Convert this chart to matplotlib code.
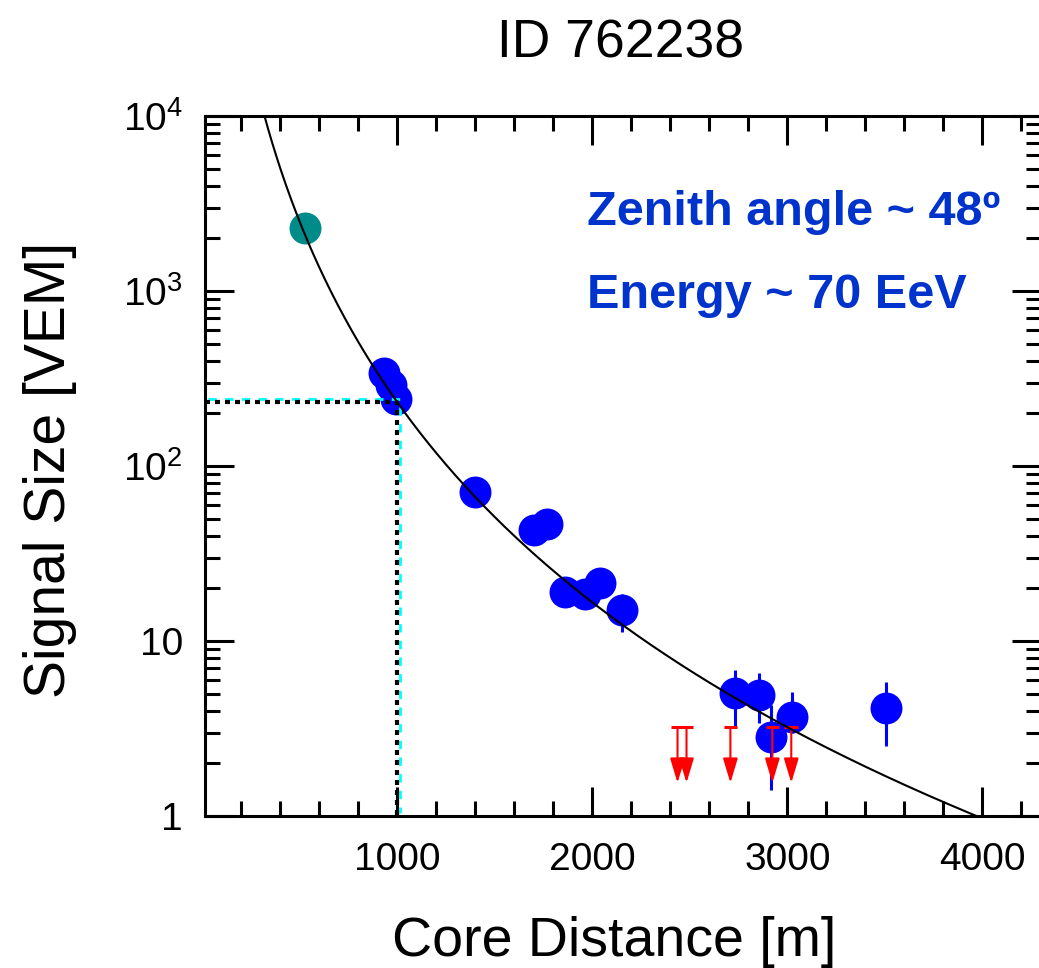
import numpy as np
import matplotlib
matplotlib.use("Agg")
import matplotlib.pyplot as plt
from matplotlib.ticker import FixedLocator, MultipleLocator, LogLocator, NullFormatter
import matplotlib.transforms as mtransforms

plt.rcParams['font.family'] = ['Liberation Sans', 'DejaVu Sans']
plt.rcParams['mathtext.default'] = 'regular'

# station data
blue_r = [930, 966, 996, 1400, 1702, 1768, 1860, 1962, 2039, 2151, 2734, 2856, 2918, 3025, 3505]
blue_s = [340, 290, 240, 71, 43, 46.6, 19.1, 18.6, 21.4, 15.0, 5.04, 4.9, 2.83, 3.68, 4.14]
blue_lo = [320, 272, 226, 66, 40, 43.5, 17.5, 17, 19.6, 11.3, 3.2, 3.4, 1.41, 3.0, 2.5]
blue_hi = [360, 308, 254, 76, 46, 50, 21, 20.3, 23.3, 18.5, 6.8, 6.6, 4.3, 5.1, 5.8]

sat_r = [526]
sat_s = [2290]

lim_r = [2437, 2483, 2708, 2923, 3020]
lim_s = [3.22, 3.22, 3.22, 3.22, 3.22]

# lateral distribution fit
R_REF = 1000
S1000 = 232
BETA = 2.28

y_ticks = [1, 10, 100, 1000, 10000]
y_ticklabels = ['1', '10', r'$10^{2}$', r'$10^{3}$', r'$10^{4}$']
x_ticks = [1000, 2000, 3000, 4000]

BLUE = '#0000ff'
TEAL = '#008b8b'
TEXT_BLUE = '#0033cc'

fig = plt.figure(figsize=(10.39, 9.68), dpi=100)
ax = fig.add_axes([205 / 1039, 1 - 816 / 968, 836 / 1039, 700 / 968])
ax.set_yscale('log')
ax.set_xlim(15, 4300)
ax.set_ylim(1, 1e4)

# data points
yerr = [np.array(blue_s) - np.array(blue_lo), np.array(blue_hi) - np.array(blue_s)]
ax.errorbar(blue_r, blue_s, yerr=yerr, fmt='o', color=BLUE, ms=23, mew=0,
            elinewidth=2.2, capsize=0, zorder=2)
ax.plot(sat_r, sat_s, 'o', color=TEAL, ms=23, mew=0, zorder=2)

# upper limits
for r, s in zip(lim_r, lim_s):
    ax.plot([r - 35, r + 35], [s, s], color='red', lw=2.2, zorder=3, solid_capstyle='butt')
    ax.annotate('', xy=(r, s * 0.48), xytext=(r, s),
                arrowprops=dict(arrowstyle='-|>,head_length=1.5,head_width=0.45',
                                color='red', lw=1.5, shrinkA=0, shrinkB=0),
                zorder=3)

# S(1000) guide lines
off = mtransforms.offset_copy(ax.transData, fig=fig, x=3, y=3, units='dots')
ax.plot([15, R_REF, R_REF], [S1000, S1000, 1], color='cyan', lw=2,
        ls=(0, (3, 3)), transform=off, zorder=3)
ax.plot([15, R_REF, R_REF], [S1000, S1000, 1], color='black', lw=3,
        ls=(0, (1.2, 1.2)), zorder=4)

# fit curve
r = np.linspace(100, 4300, 600)
s_fit = S1000 * (r / R_REF) ** -BETA * ((r + 700) / (R_REF + 700)) ** -BETA
ax.plot(r, s_fit, color='black', lw=1.5, zorder=5)

# axes styling
for sp in ax.spines.values():
    sp.set_linewidth(2.2)
ax.xaxis.set_major_locator(FixedLocator(x_ticks))
ax.xaxis.set_minor_locator(MultipleLocator(200))
ax.yaxis.set_major_locator(FixedLocator(y_ticks))
ax.yaxis.set_minor_locator(LogLocator(base=10, subs=np.arange(2, 10)))
ax.yaxis.set_minor_formatter(NullFormatter())
ax.set_yticklabels(y_ticklabels)
ax.tick_params(which='both', direction='in', top=True, right=True, width=2.2)
ax.tick_params(which='major', length=21, labelsize=28)
ax.tick_params(which='minor', length=11)
ax.tick_params(axis='x', pad=19)
ax.tick_params(axis='y', pad=16)

ax.set_xlabel('Core Distance [m]', fontsize=40)
ax.xaxis.set_label_coords(0.49, -0.143)
ax.set_ylabel('Signal Size [VEM]', fontsize=41)
ax.yaxis.set_label_coords(-0.153, 0.494)

fig.text(621 / 1039, 1 - 58 / 968, 'ID 762238', fontsize=38.5, ha='center', va='baseline')

fig.text(587 / 1039, 1 - 225 / 968, 'Zenith angle ~ 48º', fontsize=35,
         fontweight='bold', color=TEXT_BLUE, ha='left', va='baseline')
fig.text(587 / 1039, 1 - 308 / 968, 'Energy ~ 70 EeV', fontsize=35,
         fontweight='bold', color=TEXT_BLUE, ha='left', va='baseline')

fig.savefig('out.png', dpi=100)
